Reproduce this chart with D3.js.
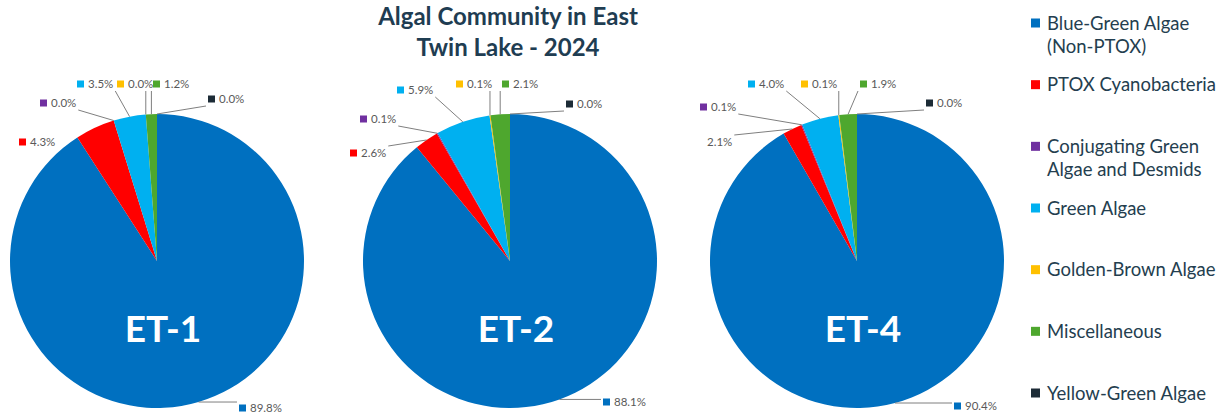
<!DOCTYPE html>
<html>
<head>
<meta charset="utf-8">
<script src="https://cdn.jsdelivr.net/npm/d3@7"></script>
<style>
  html, body { margin: 0; padding: 0; background: #ffffff; }
  svg { display: block; }
</style>
</head>
<body>
<svg id="chart" width="1227" height="417"></svg>
<script>
// ---- data ----
const categories = [
  "Blue-Green Algae (Non-PTOX)",
  "PTOX Cyanobacteria",
  "Conjugating Green Algae and Desmids",
  "Green Algae",
  "Golden-Brown Algae",
  "Miscellaneous",
  "Yellow-Green Algae"
];
const legendLines = [
  ["Blue-Green Algae", "(Non-PTOX)"],
  ["PTOX Cyanobacteria"],
  ["Conjugating Green", "Algae and Desmids"],
  ["Green Algae"],
  ["Golden-Brown Algae"],
  ["Miscellaneous"],
  ["Yellow-Green Algae"]
];
const sites = ["ET-1", "ET-2", "ET-4"];
const valuesET1 = [89.8, 4.3, 0.0, 3.5, 0.0, 1.2, 0.0];
const valuesET2 = [88.1, 2.6, 0.1, 5.9, 0.1, 2.1, 0.0];
const valuesET4 = [90.4, 2.1, 0.1, 4.0, 0.1, 1.9, 0.0];
const siteValues = [valuesET1, valuesET2, valuesET4];
const titleLines = ["Algal Community in East", "Twin Lake - 2024"];

// ---- styling / layout ----
const colors = ["#0070c0", "#ff0000", "#7030a0", "#00b0f0", "#ffc000", "#4ea72e", "#1c2b36"];
const pieCenters = [157, 510, 857];
const pieCy = 261;
const radius = 147;

// data-label placement per site: [dx of marker, dy of label centre] from pie centre,
// plus whether the marker square / leader line is drawn
const labelLayout = [
  [[82, 147], [-138, -119, {leader: false}], [-117, -158], [-80, -177], [-40, -177], [-4, -177], [51, -162]],
  [[93, 141], [-160, -108], [-150, -142], [-113, -171], [-54, -177], [-8, -177], [56, -157]],
  [[97, 145], [-161, -119, {marker: false}], [-157, -154], [-109, -177], [-56, -177], [3, -177], [69, -158]]
];

const svg = d3.select("#chart");
const font = "Lato, 'Open Sans', sans-serif";

const pie = d3.pie().sort(null).value(d => d);
const arc = d3.arc().innerRadius(0).outerRadius(radius);

siteValues.forEach((vals, si) => {
  const cx = pieCenters[si];
  const g = svg.append("g").attr("transform", `translate(${cx},${pieCy})`);
  const arcs = pie(vals);

  g.selectAll("path.slice")
    .data(arcs)
    .join("path")
    .attr("class", "slice")
    .attr("d", arc)
    .attr("fill", (d, i) => colors[i]);

  // site name on the pie
  g.append("text")
    .attr("x", 6)
    .attr("y", 81)
    .attr("text-anchor", "middle")
    .attr("font-family", font)
    .attr("font-weight", 700)
    .attr("font-size", 37)
    .attr("fill", "#ffffff")
    .text(sites[si]);

  // data labels with leader lines
  const labels = g.append("g");
  arcs.forEach((d, i) => {
    const [dx, dy, opts] = labelLayout[si][i];
    const o = Object.assign({marker: true, leader: true}, opts || {});
    const lg = labels.append("g");
    if (o.marker) {
      lg.append("rect")
        .attr("x", dx).attr("y", dy - 3.5)
        .attr("width", 7).attr("height", 7)
        .attr("fill", colors[i]);
    }
    const tx = dx + 11;
    const t = lg.append("text")
      .attr("x", tx).attr("y", dy + 4)
      .attr("font-family", font)
      .attr("font-size", 11.5)
      .attr("fill", "#595959")
      .text(d.data.toFixed(1) + "%");
    const tw = t.node().getComputedTextLength();

    if (o.leader) {
      const mid = (d.startAngle + d.endAngle) / 2;
      const px = radius * Math.sin(mid);
      const py = -radius * Math.cos(mid);
      const x0 = dx - 2, x1 = tx + tw + 2, y0 = dy - 7, y1 = dy + 7;
      const qx = Math.max(x0, Math.min(x1, px));
      const qy = Math.max(y0, Math.min(y1, py));
      labels.insert("line", ":first-child")
        .attr("x1", px).attr("y1", py)
        .attr("x2", qx).attr("y2", qy)
        .attr("stroke", "#7f7f7f")
        .attr("stroke-width", 1);
    }
  });
});

// title
svg.append("text")
  .attr("x", 508)
  .attr("y", 25)
  .attr("text-anchor", "middle")
  .attr("font-family", font)
  .attr("font-weight", 700)
  .attr("font-size", 24)
  .attr("fill", "#1f3d52")
  .selectAll("tspan")
  .data(titleLines)
  .join("tspan")
  .attr("x", 508)
  .attr("dy", (d, i) => i === 0 ? 0 : 31)
  .text(d => d);

// legend
const legendY = d3.scalePoint().domain(d3.range(categories.length)).range([23, 393]);
const legend = svg.append("g");
legendLines.forEach((lines, i) => {
  const y = legendY(i);
  legend.append("rect")
    .attr("x", 1031).attr("y", y - 4.5)
    .attr("width", 9).attr("height", 9)
    .attr("fill", colors[i]);
  legend.append("text")
    .attr("x", 1047)
    .attr("y", y + 6.5)
    .attr("font-family", font)
    .attr("font-size", 18.5)
    .attr("fill", "#243e4f")
    .selectAll("tspan")
    .data(lines)
    .join("tspan")
    .attr("x", 1047)
    .attr("dy", (d, j) => j === 0 ? 0 : 23.5)
    .text(d => d);
});
</script>
</body>
</html>
